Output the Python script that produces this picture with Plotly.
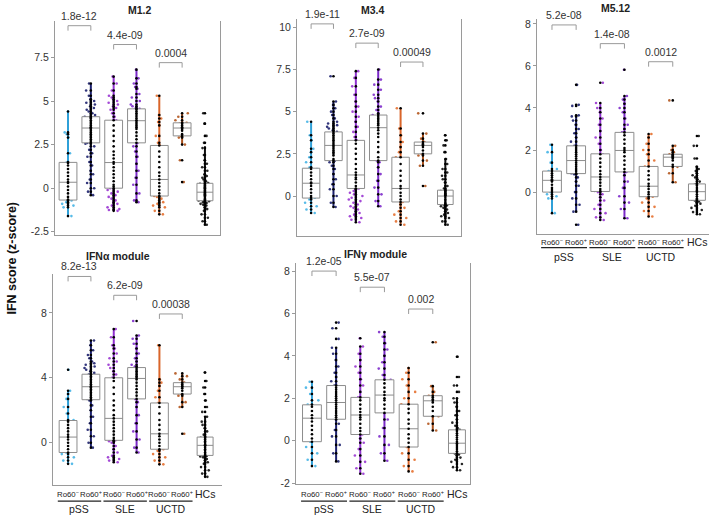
import plotly.graph_objects as go

# ---------------- data ----------------
group_labels = ["Ro60-", "Ro60+", "Ro60-", "Ro60+", "Ro60-", "Ro60+", "HCs"]
disease_names = ["pSS", "SLE", "UCTD"]
point_colors = ["#45B4E6", "#1C206E", "#9A35D2", "#7E2CCB", "#E5702F", "#B4561E", "#111111"]
whisker_colors = ["#2FA0D8", "#1C206E", "#9030D0", "#7A28C8", "#D9652A", "#A9501C", "#111111"]

# ---- M1.2 ----
M12_pts = [
    [-1.6,-1.1,-1.0,-0.9,-0.8,-0.7,-0.65,-0.5,-0.3,-0.1,0.1,0.3,0.35,0.5,0.7,0.9,1.1,1.3,1.45,1.5,2.0,2.9,3.1,3.2,4.4],
    [-0.4,-0.2,0.0,0.3,0.5,0.8,1.0,1.3,1.5,1.8,2.0,2.2,2.4,2.55,2.6,2.7,2.8,2.9,3.0,3.1,3.2,3.3,3.4,3.45,3.5,3.6,3.7,3.8,3.9,4.0,4.05,4.1,4.2,4.3,4.4,4.5,4.6,4.7,4.8,4.9,5.0,5.1,5.3,5.6,6.0],
    [-1.3,-1.25,-1.2,-1.1,-1.0,-0.9,-0.8,-0.7,-0.6,-0.5,-0.4,-0.3,-0.2,-0.1,0.0,0.1,0.2,0.4,0.6,0.8,1.0,1.2,1.4,1.5,1.7,1.9,2.1,2.4,2.7,3.0,3.3,3.6,3.9,4.1,4.3,4.5,4.6,4.7,4.8,4.9,5.0,5.1,5.2,5.3,5.6,6.0,6.4],
    [-0.8,-0.7,-0.3,0.2,0.6,1.0,1.4,1.8,2.1,2.4,2.6,2.8,3.0,3.2,3.4,3.5,3.6,3.7,3.8,3.9,4.0,4.1,4.2,4.3,4.4,4.5,4.55,4.6,4.7,4.8,5.0,5.2,5.4,5.7,5.8,6.0,6.3,6.8],
    [-1.5,-1.3,-1.1,-1.0,-0.9,-0.8,-0.7,-0.6,-0.5,-0.45,-0.3,-0.1,0.1,0.3,0.5,0.7,0.9,1.2,1.5,1.8,2.1,2.45,2.6,3.0,3.6,3.8,4.0,4.2,5.3],
    [0.35,1.6,2.5,2.9,3.0,3.1,3.3,3.4,3.45,3.5,3.6,3.7,3.75,3.9,4.1,4.3],
    [-2.1,-1.9,-1.7,-1.5,-1.3,-1.2,-1.1,-1.0,-0.95,-0.9,-0.85,-0.8,-0.75,-0.7,-0.65,-0.6,-0.5,-0.45,-0.4,-0.35,-0.3,-0.25,-0.2,-0.15,-0.1,-0.05,0.0,0.05,0.1,0.15,0.2,0.25,0.3,0.4,0.5,0.6,0.7,0.8,1.0,1.2,1.4,1.6,1.9,2.3,2.6,3.0,3.7,4.3],
]
M12_lo = [-1.6, -0.4, -1.3, -0.8, -1.5, 2.5, -2.1]
M12_q1 = [-0.68, 2.6, 0.0, 2.6, -0.45, 3.0, -0.72]
M12_med = [0.34, 3.45, 1.47, 3.87, 0.5, 3.45, -0.23]
M12_q3 = [1.48, 4.1, 3.9, 4.55, 2.45, 3.75, 0.28]
M12_hi = [4.4, 6.0, 6.4, 6.8, 5.3, 4.3, 2.4]
M12_pvals = ["1.8e-12", "4.4e-09", "0.0004"]
M12_bracket_y = [9.32, 8.24, 7.2]

# ---- M3.4 ----
M34_pts = [
    [-1.0,-0.8,-0.6,-0.4,-0.2,-0.1,0.0,0.2,0.4,0.6,0.75,0.8,1.0,1.2,1.4,1.6,1.7,2.0,2.3,2.6,2.8,3.3,3.6,4.4],
    [-0.65,-0.4,0.0,0.4,0.7,1.0,1.3,1.6,1.8,2.0,2.1,2.2,2.4,2.5,2.6,2.7,2.8,2.9,3.0,3.1,3.2,3.3,3.4,3.5,3.6,3.7,3.8,3.9,4.0,4.1,4.2,4.3,4.4,4.6,4.8,5.0,5.2,5.4,5.6,7.1],
    [-1.55,-1.4,-1.3,-1.2,-1.1,-1.0,-0.9,-0.8,-0.7,-0.6,-0.5,-0.4,-0.3,-0.2,-0.1,0.0,0.1,0.2,0.3,0.4,0.45,0.6,0.8,1.0,1.1,1.25,1.4,1.6,1.9,2.2,2.5,2.8,3.1,3.3,3.5,3.8,4.1,4.4,4.7,5.0,5.3,5.6,6.0,6.5,7.0,7.4],
    [-0.6,-0.3,0.1,0.5,0.9,1.3,1.7,2.0,2.1,2.3,2.6,2.9,3.2,3.5,3.7,3.9,4.05,4.2,4.3,4.4,4.5,4.6,4.7,4.8,4.9,5.1,5.3,5.6,5.8,6.0,6.3,6.6,6.9,7.5],
    [-1.7,-1.5,-1.3,-1.1,-0.9,-0.7,-0.5,-0.35,-0.2,0.0,0.2,0.45,0.6,0.9,1.2,1.5,1.9,2.3,2.6,2.9,3.2,3.6,4.0,5.2],
    [0.6,1.8,2.1,2.4,2.5,2.7,2.9,3.0,3.05,3.1,3.2,3.4,3.7,4.9],
    [-1.7,-1.5,-1.3,-1.2,-1.1,-1.0,-0.9,-0.8,-0.7,-0.6,-0.55,-0.5,-0.45,-0.4,-0.3,-0.2,-0.1,0.0,0.05,0.1,0.15,0.2,0.25,0.3,0.35,0.45,0.6,0.8,1.0,1.2,1.4,1.6,1.9,2.2,2.6,3.0,3.3,3.6],
]
M34_lo = [-1.0, -0.65, -1.55, -0.6, -1.7, 1.8, -1.7]
M34_q1 = [-0.12, 2.1, 0.45, 2.1, -0.35, 2.5, -0.5]
M34_med = [0.76, 3.0, 1.25, 4.05, 0.45, 3.0, 0.0]
M34_q3 = [1.65, 3.8, 3.3, 4.8, 2.3, 3.2, 0.35]
M34_hi = [4.4, 5.6, 7.4, 7.5, 5.2, 3.7, 2.2]
M34_pvals = ["1.9e-11", "2.7e-09", "0.00049"]
M34_bracket_y = [10.2, 9.06, 7.94]

# ---- M5.12 ----
M512_pts = [
    [-1.0,-0.3,-0.2,-0.1,0.0,0.1,0.2,0.35,0.5,0.56,0.6,0.7,0.8,0.9,1.0,1.1,1.4,1.9,2.25],
    [-1.55,-0.93,-0.6,-0.3,0.0,0.3,0.5,0.7,0.85,0.9,1.0,1.1,1.2,1.3,1.4,1.5,1.6,1.7,1.8,1.9,2.0,2.1,2.2,2.4,2.6,2.8,3.0,3.2,3.4,3.6,3.65,4.1,4.15,5.1],
    [-1.33,-1.2,-1.0,-0.8,-0.6,-0.4,-0.25,-0.1,0.0,0.05,0.15,0.3,0.45,0.6,0.72,0.85,1.0,1.2,1.4,1.6,1.8,2.0,2.3,2.6,2.9,3.2,3.5,3.8,4.0,4.24,5.2],
    [-1.24,-0.8,-0.5,-0.2,0.2,0.5,0.8,0.96,1.1,1.3,1.5,1.7,1.9,2.0,2.1,2.3,2.5,2.7,2.84,3.0,3.2,3.5,3.8,4.0,4.2,4.4,4.57,5.82],
    [-1.16,-0.9,-0.7,-0.5,-0.3,-0.22,-0.1,0.0,0.15,0.28,0.4,0.6,0.8,1.0,1.22,1.5,1.8,2.0,2.3,2.6,2.76],
    [0.47,0.9,1.2,1.3,1.5,1.6,1.66,1.7,1.75,1.8,1.9,2.0,2.2,4.36],
    [-1.05,-0.95,-0.85,-0.75,-0.65,-0.55,-0.5,-0.45,-0.4,-0.35,-0.3,-0.2,-0.1,0.0,0.05,0.1,0.2,0.3,0.35,0.4,0.5,0.6,0.7,0.8,0.9,1.0,1.1,1.2,1.6,2.2,2.67],
]
M512_lo = [-1.0, -0.93, -1.33, -1.24, -1.16, 0.47, -1.05]
M512_q1 = [0.0, 0.88, 0.03, 0.96, -0.22, 1.22, -0.39]
M512_med = [0.56, 1.5, 0.72, 1.98, 0.28, 1.66, 0.02]
M512_q3 = [1.0, 2.2, 1.82, 2.84, 1.22, 1.8, 0.39]
M512_hi = [2.25, 3.65, 4.24, 4.57, 2.76, 2.2, 1.2]
M512_pvals = ["5.2e-08", "1.4e-08", "0.0012"]
M512_bracket_y = [7.95, 7.06, 6.2]

# ---- IFN alpha module ----
IFNA_pts = [
    [-1.3,-1.1,-0.9,-0.7,-0.6,-0.4,-0.2,0.0,0.2,0.35,0.5,0.7,0.9,1.1,1.3,1.4,1.8,2.2,2.7,3.0,3.2,4.5],
    [-0.3,0.0,0.4,0.8,1.2,1.6,2.0,2.3,2.6,2.7,2.8,2.9,3.0,3.1,3.2,3.3,3.4,3.45,3.5,3.6,3.7,3.8,3.9,4.0,4.1,4.2,4.3,4.4,4.5,4.6,4.7,4.8,4.9,5.0,5.2,5.4,5.7,6.0,6.3],
    [-1.2,-1.1,-1.0,-0.9,-0.8,-0.6,-0.4,-0.2,0.0,0.1,0.15,0.3,0.5,0.7,0.9,1.1,1.3,1.5,1.7,2.0,2.3,2.6,3.0,3.4,3.8,4.0,4.2,4.4,4.6,4.8,5.0,5.2,5.5,5.8,6.0,6.5,7.0],
    [-0.6,-0.3,0.2,0.7,1.2,1.7,2.2,2.5,2.7,2.9,3.1,3.3,3.5,3.7,3.9,4.0,4.1,4.2,4.3,4.4,4.5,4.6,4.7,4.8,5.0,5.2,5.5,5.8,6.1,6.4,6.6,7.5],
    [-1.33,-1.1,-0.9,-0.7,-0.5,-0.4,-0.2,0.0,0.2,0.4,0.55,0.8,1.1,1.4,1.8,2.2,2.45,2.8,3.2,3.5,3.7,3.9,6.0],
    [0.55,2.2,2.5,2.9,3.0,3.2,3.35,3.45,3.5,3.6,3.7,3.9,4.1,4.27],
    [-2.1,-1.9,-1.7,-1.5,-1.3,-1.2,-1.1,-1.0,-0.9,-0.85,-0.8,-0.75,-0.7,-0.6,-0.5,-0.4,-0.3,-0.2,-0.15,-0.1,0.0,0.1,0.2,0.3,0.35,0.5,0.7,0.9,1.1,1.3,1.6,1.9,2.2,2.6,3.0,3.4,3.8,4.33],
]
IFNA_lo = [-1.3, -0.3, -1.2, -0.6, -1.33, 2.2, -2.1]
IFNA_q1 = [-0.6, 2.65, 0.15, 2.7, -0.4, 3.0, -0.78]
IFNA_med = [0.35, 3.45, 1.5, 3.96, 0.55, 3.45, -0.16]
IFNA_q3 = [1.37, 4.22, 4.0, 4.63, 2.45, 3.7, 0.35]
IFNA_hi = [3.2, 6.3, 7.0, 6.6, 6.0, 4.27, 1.6]
IFNA_pvals = ["8.2e-13", "6.2e-09", "0.00038"]
IFNA_bracket_y = [10.24, 9.08, 7.93]

# ---- IFN gamma module ----
IFNG_pts = [
    [-1.2,-0.9,-0.6,-0.3,-0.05,0.1,0.3,0.5,0.7,0.9,1.06,1.2,1.4,1.6,1.7,1.9,2.2,2.5,2.78],
    [-0.98,-0.6,-0.2,0.2,0.5,0.8,1.0,1.1,1.2,1.3,1.4,1.5,1.6,1.7,1.8,1.9,2.0,2.1,2.2,2.3,2.4,2.5,2.6,2.8,3.0,3.2,3.5,3.8,4.1,4.38,4.8,5.3,5.57],
    [-1.56,-1.3,-1.0,-0.7,-0.4,-0.1,0.1,0.29,0.45,0.6,0.8,1.0,1.1,1.21,1.35,1.5,1.7,1.9,2.04,2.3,2.6,2.9,3.2,3.5,3.8,4.1,4.44,4.83],
    [-0.95,-0.6,-0.2,0.2,0.6,1.0,1.31,1.5,1.7,1.9,2.0,2.15,2.3,2.5,2.7,2.87,3.1,3.4,3.7,4.0,4.3,4.6,4.9,5.12],
    [-1.45,-1.2,-0.9,-0.6,-0.3,-0.1,0.1,0.3,0.56,0.8,1.0,1.3,1.5,1.72,2.0,2.3,2.6,2.9,3.2,3.43],
    [0.48,0.8,1.15,1.4,1.6,1.8,1.88,1.95,2.05,2.12,2.3,2.57,4.64],
    [-1.4,-1.25,-1.1,-1.0,-0.9,-0.8,-0.7,-0.65,-0.6,-0.5,-0.4,-0.3,-0.2,-0.12,-0.05,0.05,0.15,0.25,0.35,0.45,0.51,0.6,0.7,0.85,1.0,1.2,1.4,1.6,1.8,2.0,2.3,2.6,3.0,3.96],
]
IFNG_lo = [-1.2, -0.98, -1.56, -0.95, -1.45, 0.48, -1.4]
IFNG_q1 = [-0.05, 1.01, 0.29, 1.31, -0.3, 1.15, -0.6]
IFNG_med = [1.06, 1.8, 1.21, 2.15, 0.56, 1.88, -0.12]
IFNG_q3 = [1.69, 2.6, 2.04, 2.87, 1.72, 2.12, 0.51]
IFNG_hi = [2.78, 4.38, 4.44, 5.12, 3.43, 2.57, 2.0]
IFNG_pvals = ["1.2e-05", "5.5e-07", "0.002"]
IFNG_bracket_y = [8.0, 7.24, 6.21]

titles = ["M1.2", "M3.4", "M5.12", "IFNα module", "IFNγ module"]
tick_values = [[-2.5, 0, 2.5, 5, 7.5], [0, 2.5, 5, 7.5, 10], [0, 2, 4, 6, 8], [0, 4, 8], [-2, 0, 2, 4, 6, 8]]

# ---------------- layout geometry (pixels) ----------------
W, H = 709, 520
FONT = "Liberation Sans, Arial, sans-serif"

def px_x(p):
    return p / W

def px_y(p):
    return 1 - p / H

panels = [
    dict(pts=M12_pts, lo=M12_lo, q1=M12_q1, med=M12_med, q3=M12_q3, hi=M12_hi, pv=M12_pvals, by=M12_bracket_y,
         xd=(55, 220), yd=(20, 236), xr=[-0.57, 6.66], yr=[-2.67, 9.6], mirror=True, labels=None, title=(140, 9)),
    dict(pts=M34_pts, lo=M34_lo, q1=M34_q1, med=M34_med, q3=M34_q3, hi=M34_hi, pv=M34_pvals, by=M34_bracket_y,
         xd=(297, 461), yd=(18, 237), xr=[-0.63, 6.7], yr=[-2.35, 10.5], mirror=True, labels=None, title=(373, 9)),
    dict(pts=M512_pts, lo=M512_lo, q1=M512_q1, med=M512_med, q3=M512_q3, hi=M512_hi, pv=M512_pvals, by=M512_bracket_y,
         xd=(537, 709), yd=(18, 235), xr=[-0.62, 6.5], yr=[-1.98, 8.24], mirror=False, labels=(243, 249, 258), title=(615, 7)),
    dict(pts=IFNA_pts, lo=IFNA_lo, q1=IFNA_q1, med=IFNA_med, q3=IFNA_q3, hi=IFNA_hi, pv=IFNA_pvals, by=IFNA_bracket_y,
         xd=(53, 222), yd=(276, 489), xr=[-0.66, 6.74], yr=[-2.62, 10.37], mirror=False, labels=(498, 505, 513), title=(118, 257)),
    dict(pts=IFNG_pts, lo=IFNG_lo, q1=IFNG_q1, med=IFNG_med, q3=IFNG_q3, hi=IFNG_hi, pv=IFNG_pvals, by=IFNG_bracket_y,
         xd=(296, 470), yd=(265, 488), xr=[-0.66, 6.54], yr=[-2.06, 8.36], mirror=True, labels=(498, 505, 513), title=(376, 255)),
]

fig = go.Figure()
annotations = []
shapes = []
layout_axes = {}

for k, P in enumerate(panels):
    n = k + 1
    xa = "x" if n == 1 else f"x{n}"
    ya = "y" if n == 1 else f"y{n}"
    xkey = "xaxis" if n == 1 else f"xaxis{n}"
    ykey = "yaxis" if n == 1 else f"yaxis{n}"

    for i in range(7):
        vals = P["pts"][i]
        bw = 0.7 if i == 6 else 0.78
        # coloured jittered points
        fig.add_trace(go.Box(
            x=[i] * len(vals), y=vals, xaxis=xa, yaxis=ya,
            boxpoints="all", jitter=0.85, pointpos=0, width=bw,
            fillcolor="rgba(0,0,0,0)", line=dict(color="rgba(0,0,0,0)", width=0),
            marker=dict(color=point_colors[i], size=2.6, opacity=0.9),
            showlegend=False, hoverinfo="skip"))
        # coloured whiskers (very narrow box, hidden under the grey box)
        fig.add_trace(go.Box(
            x=[i], q1=[P["q1"][i]], median=[P["med"][i]], q3=[P["q3"][i]],
            lowerfence=[P["lo"][i]], upperfence=[P["hi"][i]],
            xaxis=xa, yaxis=ya, width=0.02, whiskerwidth=0, boxpoints=False,
            line=dict(color=whisker_colors[i], width=2), fillcolor=whisker_colors[i],
            showlegend=False, hoverinfo="skip"))
        # grey box
        fig.add_trace(go.Box(
            x=[i], q1=[P["q1"][i]], median=[P["med"][i]], q3=[P["q3"][i]],
            lowerfence=[P["q1"][i]], upperfence=[P["q3"][i]],
            xaxis=xa, yaxis=ya, width=bw, whiskerwidth=0, boxpoints=False,
            line=dict(color="#8d8d8d", width=1), fillcolor="white",
            showlegend=False, hoverinfo="skip"))
    # black centre points
    xs, ys = [], []
    for i in range(7):
        xs += [i] * len(P["pts"][i])
        ys += P["pts"][i]
    fig.add_trace(go.Scatter(x=xs, y=ys, xaxis=xa, yaxis=ya, mode="markers",
                             marker=dict(color="black", size=2.6), showlegend=False, hoverinfo="skip"))

    layout_axes[xkey] = dict(domain=[px_x(P["xd"][0]), px_x(P["xd"][1])], range=P["xr"], anchor=ya,
                             showgrid=False, zeroline=False, showline=True, linecolor="#9a9a9a", linewidth=1,
                             showticklabels=False, ticks="", fixedrange=True)
    layout_axes[ykey] = dict(domain=[px_y(P["yd"][1]), px_y(P["yd"][0])], range=P["yr"], anchor=xa,
                             showgrid=False, zeroline=False, showline=True, linecolor="#9a9a9a", linewidth=1,
                             mirror=P["mirror"], ticks="outside", ticklen=3, tickcolor="#9a9a9a",
                             tickvals=tick_values[k], ticktext=[("%g" % v) for v in tick_values[k]],
                             tickfont=dict(family=FONT, size=10.5, color="#333333"), fixedrange=True)

    # title
    annotations.append(dict(text="<b>%s</b>" % titles[k], xref="paper", yref="paper",
                            x=px_x(P["title"][0]), y=px_y(P["title"][1]), xanchor="center", yanchor="middle",
                            showarrow=False, font=dict(family=FONT, size=10.5, color="#222222")))

    # p-value brackets
    span = P["yr"][1] - P["yr"][0]
    ypx = P["yd"][1] - P["yd"][0]
    leg = 5.0 * span / ypx
    for j in range(3):
        a = 2 * j
        b = 2 * j + 1
        yb = P["by"][j]
        shapes.append(dict(type="path", xref=xa, yref=ya,
                           path=f"M {a},{yb - leg} L {a},{yb} L {b},{yb} L {b},{yb - leg}",
                           line=dict(color="#9a9a9a", width=1)))
        annotations.append(dict(text=P["pv"][j], xref=xa, yref=ya, x=(a + b) / 2, y=yb,
                                xanchor="center", yanchor="bottom", yshift=2, showarrow=False,
                                font=dict(family=FONT, size=10.5, color="#333333")))

    # group labels under x axis
    if P["labels"]:
        ly, uy, gy = P["labels"]
        for i in range(6):
            sign = "\u2212" if i % 2 == 0 else "+"
            annotations.append(dict(text="Ro60<sup>%s</sup>" % sign, xref=xa, yref="paper",
                                    x=i, y=px_y(ly), xanchor="center", yanchor="middle", showarrow=False,
                                    font=dict(family=FONT, size=7.8, color="#222222")))
        annotations.append(dict(text=group_labels[6], xref=xa, yref="paper", x=6, y=px_y(ly),
                                xanchor="center", yanchor="middle", showarrow=False,
                                font=dict(family=FONT, size=10.5, color="#222222")))
        for g in range(3):
            shapes.append(dict(type="line", xref=xa, yref="paper", x0=2 * g - 0.45, x1=2 * g + 1.45,
                               y0=px_y(uy), y1=px_y(uy), line=dict(color="#222222", width=1.3)))
            annotations.append(dict(text=disease_names[g], xref=xa, yref="paper", x=2 * g + 0.5, y=px_y(gy),
                                    xanchor="center", yanchor="middle", showarrow=False,
                                    font=dict(family=FONT, size=10.5, color="#222222")))

# y-axis title
annotations.append(dict(text="<b>IFN score (z-score)</b>", xref="paper", yref="paper",
                        x=px_x(11), y=px_y(260), textangle=-90, xanchor="center", yanchor="middle",
                        showarrow=False, font=dict(family=FONT, size=12.5, color="#111111")))

fig.update_layout(
    width=W, height=H, autosize=False,
    margin=dict(l=0, r=0, t=0, b=0),
    paper_bgcolor="white", plot_bgcolor="white",
    boxmode="overlay", showlegend=False, hovermode=False,
    annotations=annotations, shapes=shapes,
    **layout_axes,
)

fig.write_html("out.html", config={"displayModeBar": False},
               post_script="document.body.style.margin='0px';document.body.style.overflow='hidden';")
